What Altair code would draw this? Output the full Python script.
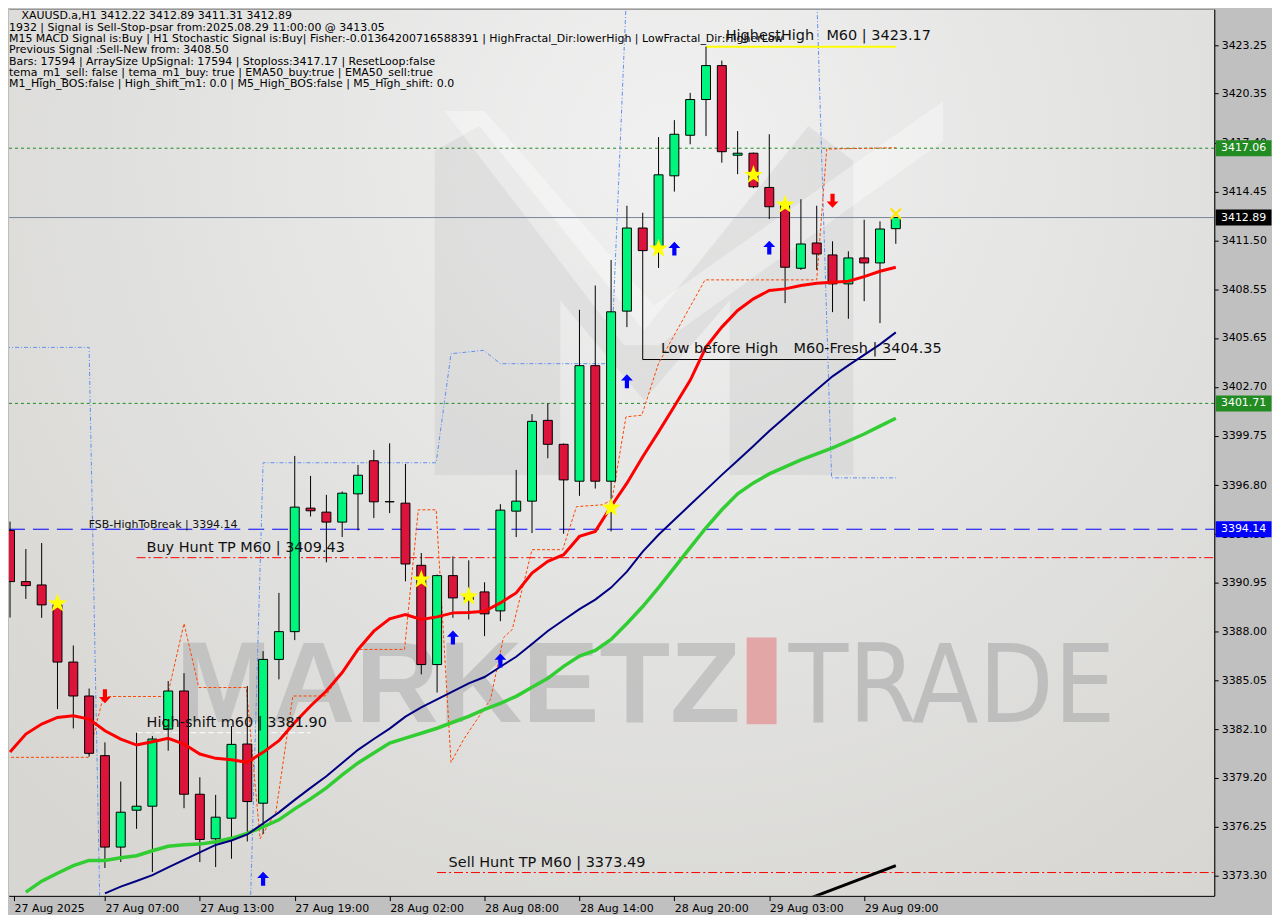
import json
import altair as alt
import pandas as pd

# ---------------- data ----------------
bar_idx = list(range(57))
open_ = [3394.07, 3390.99, 3390.79, 3389.59, 3386.15, 3384.11, 3380.52, 3375.02, 3377.24, 3377.48,
         3382.12, 3384.41, 3378.20, 3375.52, 3376.76, 3381.22, 3377.66, 3386.31, 3387.98, 3395.41,
         3395.17, 3394.57, 3396.27, 3398.26, 3395.79, 3395.71, 3391.97, 3386.00, 3391.35, 3390.10,
         3390.37, 3389.23, 3395.23, 3395.83, 3400.69, 3399.25, 3397.03, 3403.98, 3397.03, 3407.26,
         3412.26, 3411.10, 3415.40, 3417.84, 3419.99, 3422.03, 3416.64, 3416.76, 3414.70, 3413.60,
         3409.84, 3411.36, 3410.64, 3408.90, 3410.46, 3410.16, 3412.22]
high = [3394.60, 3392.95, 3393.31, 3389.80, 3387.15, 3384.56, 3381.32, 3378.96, 3381.90, 3381.70,
        3385.01, 3385.48, 3379.22, 3378.16, 3382.30, 3384.71, 3386.81, 3390.31, 3398.55, 3397.35,
        3396.21, 3396.41, 3398.01, 3398.91, 3399.31, 3398.07, 3392.71, 3391.41, 3392.51, 3392.27,
        3390.95, 3395.65, 3397.71, 3401.06, 3401.71, 3399.30, 3407.34, 3408.80, 3410.34, 3413.60,
        3413.18, 3417.73, 3418.75, 3420.39, 3423.17, 3422.33, 3418.09, 3416.80, 3417.90, 3413.70,
        3413.99, 3413.60, 3411.46, 3410.86, 3412.76, 3412.66, 3412.89]
low = [3388.83, 3389.95, 3388.81, 3383.32, 3382.16, 3380.46, 3373.76, 3374.12, 3376.12, 3373.52,
       3380.82, 3377.36, 3374.12, 3373.82, 3374.32, 3375.36, 3375.82, 3385.11, 3387.47, 3394.91,
       3392.15, 3393.67, 3394.07, 3394.81, 3395.11, 3391.01, 3385.41, 3384.32, 3388.81, 3388.71,
       3387.71, 3388.61, 3393.67, 3393.91, 3398.41, 3393.87, 3396.15, 3396.59, 3394.01, 3406.30,
       3404.35, 3409.86, 3414.45, 3417.30, 3417.79, 3416.19, 3415.50, 3414.66, 3412.80, 3407.74,
       3409.74, 3409.74, 3407.20, 3406.80, 3407.86, 3406.54, 3411.31]
close = [3390.99, 3390.75, 3389.59, 3386.15, 3384.11, 3380.66, 3375.02, 3377.12, 3377.48, 3381.52,
         3384.41, 3378.20, 3375.48, 3376.82, 3381.20, 3377.76, 3386.31, 3387.98, 3395.47, 3395.25,
         3394.57, 3396.31, 3397.39, 3395.79, 3395.80, 3392.05, 3386.00, 3391.35, 3390.01, 3389.90,
         3389.05, 3395.29, 3395.83, 3400.63, 3399.25, 3397.11, 3403.98, 3397.03, 3407.22, 3412.26,
         3410.90, 3415.46, 3417.90, 3419.99, 3422.03, 3416.85, 3416.76, 3414.74, 3413.54, 3409.90,
         3411.30, 3410.70, 3408.90, 3410.46, 3410.16, 3412.20, 3412.89]

ema_fast = [3380.74, 3381.82, 3382.42, 3382.82, 3382.92, 3382.72, 3382.02, 3381.52, 3381.16, 3381.36,
            3381.56, 3381.22, 3380.62, 3380.36, 3380.28, 3380.12, 3380.72, 3381.42, 3382.52, 3383.51,
            3384.41, 3385.52, 3386.91, 3388.01, 3388.75, 3389.01, 3388.71, 3388.87, 3389.11, 3389.13,
            3389.21, 3389.71, 3390.31, 3391.51, 3392.21, 3392.61, 3393.71, 3394.01, 3395.51, 3396.91,
            3398.50, 3400.00, 3401.54, 3403.10, 3405.10, 3406.30, 3407.30, 3408.00, 3408.50, 3408.60,
            3408.80, 3408.94, 3409.00, 3409.06, 3409.34, 3409.66, 3409.90]
navy_idx = list(range(6, 57))
ema_navy = [3372.24, 3372.64, 3372.98, 3373.33, 3373.80, 3374.25, 3374.70, 3375.15, 3375.42, 3375.78,
            3376.44, 3377.11, 3377.86, 3378.58, 3379.28, 3380.08, 3380.87, 3381.52, 3382.15, 3382.87,
            3383.43, 3383.91, 3384.39, 3384.87, 3385.25, 3385.87, 3386.47, 3387.24, 3388.02, 3388.68,
            3389.33, 3389.91, 3390.63, 3391.59, 3392.79, 3393.81, 3394.71, 3395.61, 3396.51, 3397.41,
            3398.28, 3399.15, 3400.05, 3400.88, 3401.72, 3402.53, 3403.34, 3404.00, 3404.63, 3405.26,
            3405.98]
green_idx = list(range(1, 57))
ema_green = [3372.31, 3372.97, 3373.45, 3373.90, 3374.22, 3374.22, 3374.38, 3374.50, 3374.80,
             3375.07, 3375.16, 3375.20, 3375.34, 3375.55, 3375.85, 3376.24, 3376.66, 3377.32, 3377.92,
             3378.58, 3379.36, 3380.08, 3380.68, 3381.28, 3381.58, 3381.87, 3382.17, 3382.53, 3382.89,
             3383.31, 3383.67, 3384.09, 3384.63, 3385.17, 3385.89, 3386.51, 3386.85, 3387.51, 3388.47,
             3389.49, 3390.63, 3391.83, 3393.03, 3394.23, 3395.31, 3396.27, 3396.93, 3397.47, 3397.89,
             3398.31, 3398.67, 3399.03, 3399.45, 3399.87, 3400.34, 3400.82]
black_idx = [50, 51, 52, 53, 54, 55, 56]
ma_black = [3371.74, 3372.10, 3372.46, 3372.82, 3373.18, 3373.54, 3373.90]

orange_idx = [-0.25, 4.94, 5.9, 9.94, 11.0, 11.94, 14.94, 15.81, 16.81, 17.88, 19.94, 22.06, 24.94,
              25.81, 26.94, 27.88, 28.69, 30.38, 31.19, 31.75, 33.0, 34.94, 35.81, 37.44, 38.06,
              38.94, 39.94, 41.0, 43.94, 51.0, 51.63, 56.0]
orange_price = [3380.42, 3380.42, 3384.08, 3384.08, 3388.47, 3384.62, 3384.62, 3375.52, 3377.14,
                3384.11, 3384.11, 3386.91, 3386.91, 3395.31, 3395.31, 3380.12, 3381.52, 3383.91,
                3387.61, 3388.11, 3392.91, 3392.91, 3395.50, 3395.61, 3395.91, 3400.90, 3401.00,
                3404.12, 3409.14, 3409.14, 3417.01, 3417.09]
blue_idx = [-0.25, 5.0, 5.81, 15.0, 16.0, 26.94, 27.88, 29.94, 31.0, 38.0, 39.13, 50.88, 51.94, 56.0]
blue_price = [3405.08, 3405.08, 3365.0, 3365.0, 3398.14, 3398.14, 3404.70, 3404.90, 3404.10,
              3404.10, 3430.0, 3430.0, 3397.23, 3397.23]

star_idx = [3, 26, 29, 38, 41, 47, 49]
star_price = [3389.67, 3391.11, 3390.09, 3395.43, 3411.02, 3415.45, 3413.66]
up_idx = [16, 28, 31, 39, 42, 48]
up_price = [3373.12, 3387.63, 3386.25, 3403.04, 3411.02, 3411.08]
down_idx = [6, 52]
down_price = [3384.09, 3413.90]
cross_idx = [56]
cross_price = [3413.12]

x_tick_idx = [0, 6, 12, 18, 24, 30, 36, 42, 48, 54]
x_tick_labels = ["27 Aug 2025", "27 Aug 07:00", "27 Aug 13:00", "27 Aug 19:00", "28 Aug 02:00",
                 "28 Aug 08:00", "28 Aug 14:00", "28 Aug 20:00", "29 Aug 03:00", "29 Aug 09:00"]
y_tick_values = [3423.25, 3420.35, 3417.40, 3414.45, 3411.50, 3408.55, 3405.65, 3402.70, 3399.75,
                 3396.80, 3393.85, 3390.95, 3388.00, 3385.05, 3382.10, 3379.20, 3376.25, 3373.30]

info_first = "XAUUSD.a,H1  3412.22 3412.89 3411.31 3412.89"
info_lines = [
    "1932 | Signal is Sell-Stop-psar from:2025.08.29 11:00:00 @ 3413.05",
    "M15 MACD Signal is:Buy | H1 Stochastic Signal is:Buy| Fisher:-0.01364200716588391 | HighFractal_Dir:lowerHigh | LowFractal_Dir:HigherLow",
    "Previous Signal :Sell-New from: 3408.50",
    "Bars: 17594 | ArraySize UpSignal: 17594 | Stoploss:3417.17 | ResetLoop:false",
    "tema_m1_sell: false | tema_m1_buy: true | EMA50_buy:true | EMA50_sell:true",
    "M1_High_BOS:false | High_shift_m1: 0.0 | M5_High_BOS:false | M5_High_shift: 0.0",
]

level_highest = 3423.17
level_green_hi = 3417.06
level_current = 3412.89
level_low_before = 3404.35
level_green_lo = 3401.71
level_fsb = 3394.14
level_buy_tp = 3392.43
level_high_shift = 3381.90
level_sell_tp = 3373.49

# ---------------- layout / scales ----------------
W, H = 1209, 889
X_DOMAIN = [0.25, 75.8125]
Y_DOMAIN = [3372.101, 3425.409]
FONT = "DejaVu Sans"

xs = alt.Scale(domain=X_DOMAIN, nice=False, zero=False)
ys = alt.Scale(domain=Y_DOMAIN, nice=False, zero=False)

x_axis = alt.Axis(
    values=[max(v, X_DOMAIN[0]) for v in x_tick_idx],
    labelExpr=json.dumps(x_tick_labels) + "[round(datum.value / 6)]",
    labelAlign="left", labelBaseline="top", labelPadding=2, labelFlush=False,
    labelOverlap=False, labelFont=FONT, labelFontSize=11, labelColor="#000000",
    tickColor="#000000", tickSize=5, domainColor="#000000", grid=False, title=None,
    orient="bottom")
y_axis = alt.Axis(
    values=y_tick_values, format=".2f", orient="right", labelFont=FONT, labelFontSize=11,
    labelColor="#000000", tickColor="#000000", tickSize=4, labelPadding=3,
    domainColor="#000000", grid=False, title=None, labelOverlap=False, labelFlush=False)


def X(f):
    return alt.X(f"{f}:Q", scale=xs, axis=x_axis, title=None)


def Y(f):
    return alt.Y(f"{f}:Q", scale=ys, axis=y_axis, title=None)


one = alt.Data(values=[{"a": 1}])

candles = pd.DataFrame({"i": bar_idx, "o": open_, "h": high, "l": low, "c": close})
candles["dir"] = ["up" if c >= o else "down" for o, c in zip(open_, close)]

layers = []

# background gradient
bg = alt.RadialGradient(
    gradient="radial",
    stops=[alt.GradientStop(color="#f1f1f1", offset=0),
           alt.GradientStop(color="#e3e3e2", offset=0.5),
           alt.GradientStop(color="#d7d6d2", offset=1)],
    x1=0.55, y1=0.25, r1=0, x2=0.55, y2=0.25, r2=0.75)
layers.append(alt.Chart(one).mark_rect(color=bg).encode(
    x=alt.value(0), x2=alt.value(W), y=alt.value(0), y2=alt.value(H)))

# watermark logo M
M_PATH = ("M-2.1,1.75L-2.1,-1.5L-1.65,-1.75L0,0.3L1.65,-1.75L2.1,-1.4L2.1,1.75L0.86,1.75"
          "L0.86,0L0,1.0L-0.84,0L-0.84,1.75Z")
layers.append(alt.Chart(one).mark_point(shape=M_PATH, size=40000, filled=True, color="#9a9a9a",
                                        opacity=0.15, strokeWidth=0).encode(
    x=alt.value(637), y=alt.value(292)))
CHEV_PATH = "M-2.0,-1.9L-1.6,-1.9L0.1,0.05L3.0,-2.0L3.0,-1.6L0.15,0.45L-0.2,0.45Z"
layers.append(alt.Chart(one).mark_point(shape=CHEV_PATH, size=40000, filled=True, color="#ffffff",
                                        opacity=0.35, strokeWidth=0).encode(
    x=alt.value(637), y=alt.value(292)))

# watermark text
layers.append(alt.Chart(one).mark_text(font="Liberation Sans", fontSize=116, fontWeight="bold",
                                       color="#bdbdbd", opacity=0.8, align="left",
                                       baseline="alphabetic").encode(
    x=alt.value(167), y=alt.value(715), text=alt.value("MARKETZ")))
layers.append(alt.Chart(one).mark_rect(color="#e2a6a6").encode(
    x=alt.value(740), x2=alt.value(770), y=alt.value(630), y2=alt.value(717)))
layers.append(alt.Chart(one).mark_text(
    font="Liberation Sans Narrow, DejaVu Sans Condensed, Liberation Sans", fontSize=109,
    color="#b9b9b9", opacity=0.85, align="left", baseline="alphabetic").encode(
    x=alt.value(782), y=alt.value(715), text=alt.value("TRADE")))


# horizontal levels
def hline(price, color, dash=None, width=1):
    kw = dict(color=color, strokeWidth=width)
    if dash:
        kw["strokeDash"] = dash
    return alt.Chart(pd.DataFrame({"p": [price]})).mark_rule(**kw).encode(
        y=Y("p"), x=alt.value(0), x2=alt.value(W))


def segline(x0, x1, price, color, dash=None, width=1):
    kw = dict(color=color, strokeWidth=width, clip=True)
    if dash:
        kw["strokeDash"] = dash
    return alt.Chart(pd.DataFrame({"x0": [x0], "x1": [x1], "p": [price]})).mark_rule(**kw).encode(
        x=X("x0"), x2="x1:Q", y=Y("p"))


layers.append(hline(level_green_hi, "#228b22", [3, 3]))
layers.append(hline(level_green_lo, "#228b22", [3, 3]))
layers.append(hline(level_current, "#778899"))
layers.append(hline(level_fsb, "#0000ff", [16, 8]))
buy_tp = alt.Chart(pd.DataFrame({"x0": [8], "p": [level_buy_tp]})).mark_rule(
    color="#ff0000", strokeWidth=1, strokeDash=[9, 3, 2, 3]).encode(
    x=X("x0"), x2=alt.value(W), y=Y("p"))
layers.append(buy_tp)
sell_tp = alt.Chart(pd.DataFrame({"x0": [27], "p": [level_sell_tp]})).mark_rule(
    color="#ff0000", strokeWidth=1, strokeDash=[9, 3, 2, 3]).encode(
    x=X("x0"), x2=alt.value(W), y=Y("p"))
layers.append(sell_tp)
layers.append(segline(8, 19, level_high_shift, "#ffffff", [6, 3]))
layers.append(segline(44, 56, level_highest, "#ffff00", None, 2))
layers.append(segline(40, 56, level_low_before, "#000000"))

# envelopes
layers.append(alt.Chart(pd.DataFrame({"i": blue_idx, "p": blue_price})).mark_line(
    color="#5f8ff0", strokeWidth=1, strokeDash=[4, 2, 1, 2], clip=True).encode(
    x=X("i"), y=Y("p"), order="i:Q"))
layers.append(alt.Chart(pd.DataFrame({"i": orange_idx, "p": orange_price})).mark_line(
    color="#ff4500", strokeWidth=1, strokeDash=[3, 2], clip=True).encode(
    x=X("i"), y=Y("p"), order="i:Q"))

# candles
layers.append(alt.Chart(candles).mark_rule(color="#000000", strokeWidth=1, clip=True).encode(
    x=X("i"), y=Y("l"), y2="h:Q"))
layers.append(alt.Chart(candles).mark_bar(size=9, stroke="#000000", strokeWidth=1, clip=True).encode(
    x=X("i"), y=Y("o"), y2="c:Q",
    color=alt.Color("dir:N", scale=alt.Scale(domain=["up", "down"], range=["#00f57c", "#dc143c"]),
                    legend=None)))

# moving averages
layers.append(alt.Chart(pd.DataFrame({"i": green_idx, "p": ema_green})).mark_line(
    color="#32cd32", strokeWidth=3.5, clip=True).encode(x=X("i"), y=Y("p")))
layers.append(alt.Chart(pd.DataFrame({"i": navy_idx, "p": ema_navy})).mark_line(
    color="#000080", strokeWidth=2, clip=True).encode(x=X("i"), y=Y("p")))
layers.append(alt.Chart(pd.DataFrame({"i": bar_idx, "p": ema_fast})).mark_line(
    color="#ff0000", strokeWidth=3, clip=True).encode(x=X("i"), y=Y("p")))
layers.append(alt.Chart(pd.DataFrame({"i": black_idx, "p": ma_black})).mark_line(
    color="#000000", strokeWidth=3, clip=True).encode(x=X("i"), y=Y("p")))

# markers
STAR = ("M0,-1L0.235,-0.324L0.951,-0.309L0.38,0.124L0.588,0.809L0,0.4L-0.588,0.809"
        "L-0.38,0.124L-0.951,-0.309L-0.235,-0.324Z")
UP = "M0,-1L0.85,-0.1L0.3,-0.1L0.3,1L-0.3,1L-0.3,-0.1L-0.85,-0.1Z"
DOWN = "M0,1L0.85,0.1L0.3,0.1L0.3,-1L-0.3,-1L-0.3,0.1L-0.85,0.1Z"
XMARK = ("M-1,-0.75L-0.75,-1L0,-0.25L0.75,-1L1,-0.75L0.25,0L1,0.75L0.75,1L0,0.25L-0.75,1"
         "L-1,0.75L-0.25,0Z")
layers.append(alt.Chart(pd.DataFrame({"i": star_idx, "p": star_price})).mark_point(
    shape=STAR, size=400, filled=True, color="#ffff00", opacity=1, strokeWidth=0).encode(
    x=X("i"), y=Y("p")))
layers.append(alt.Chart(pd.DataFrame({"i": up_idx, "p": up_price})).mark_point(
    shape=UP, size=196, filled=True, color="#0000ff", opacity=1, strokeWidth=0).encode(
    x=X("i"), y=Y("p")))
layers.append(alt.Chart(pd.DataFrame({"i": down_idx, "p": down_price})).mark_point(
    shape=DOWN, size=196, filled=True, color="#ff0000", opacity=1, strokeWidth=0).encode(
    x=X("i"), y=Y("p")))
layers.append(alt.Chart(pd.DataFrame({"i": cross_idx, "p": cross_price})).mark_point(
    shape=XMARK, size=144, filled=True, color="#ffe600", opacity=1, strokeWidth=0).encode(
    x=X("i"), y=Y("p")))


# texts
def label(txt, px, py, size=14.5, color="#111111"):
    return alt.Chart(one).mark_text(font=FONT, fontSize=size, color=color, align="left",
                                    baseline="alphabetic").encode(
        x=alt.value(px), y=alt.value(py), text=alt.value(txt))


layers.append(label(info_first, 12.5, 9.5, 11, "#000000"))
layers.append(alt.Chart(one).mark_text(font=FONT, fontSize=11, color="#000000", align="left",
                                       baseline="alphabetic", lineBreak="\n", lineHeight=11.3).encode(
    x=alt.value(0), y=alt.value(21.5), text=alt.value("\n".join(info_lines))))
layers.append(label(f"FSB-HighToBreak | {level_fsb:.2f}", 80, 520, 11))
layers.append(label("Buy Hunt TP M60 | 3409.43", 138, 544))
layers.append(label(f"High-shift m60 | {level_high_shift:.2f}", 138, 720))
layers.append(label(f"Sell Hunt TP M60 | {level_sell_tp:.2f}", 441, 860))
layers.append(label("Low before High", 654, 345))
layers.append(label(f"M60-Fresh | {level_low_before:.2f}", 787, 345))
layers.append(label("HighestHigh", 719, 31))
layers.append(label(f"M60 | {level_highest:.2f}", 820, 31))

# price boxes on the right axis
BOX = "M-3.5,-1L3.5,-1L3.5,1L-3.5,1Z"
for price, col in [(level_green_hi, "#228b22"), (level_current, "#000000"),
                   (level_green_lo, "#228b22"), (level_fsb, "#0000ff")]:
    d = pd.DataFrame({"p": [price]})
    layers.append(alt.Chart(d).mark_point(shape=BOX, size=256, filled=True, color=col, opacity=1,
                                          strokeWidth=0).encode(x=alt.value(1238.5), y=Y("p")))
    layers.append(alt.Chart(d).mark_text(font=FONT, fontSize=11, color="#ffffff").encode(
        x=alt.value(1238.5), y=Y("p"), text=alt.Text("p:Q", format=".2f")))

chart = alt.layer(*layers).properties(
    width=W, height=H, background="#c0c0c0", padding=0
).configure_view(stroke="#000000", strokeWidth=1)

chart.save("out.html", embed_options={"renderer": "svg", "actions": False})
